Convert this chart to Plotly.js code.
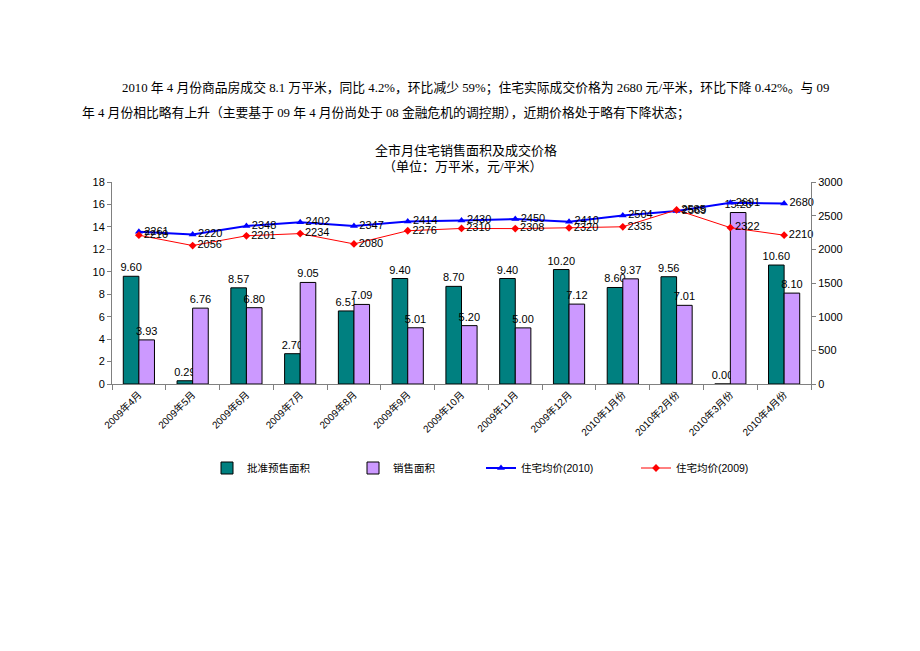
<!DOCTYPE html>
<html><head><meta charset="utf-8">
<script src="https://cdn.plot.ly/plotly-3.0.1.min.js"></script>
<style>html,body{margin:0;padding:0;background:#fff;}#chart{width:920px;height:651px;}</style>
</head><body><div id="chart"></div>
<script>
const categories = ["2009年4月","2009年5月","2009年6月","2009年7月","2009年8月","2009年9月","2009年10月","2009年11月","2009年12月","2010年1月份","2010年2月份","2010年3月份","2010年4月份"];
const approvedArea = [9.60, 0.29, 8.57, 2.70, 6.51, 9.40, 8.70, 9.40, 10.20, 8.60, 9.56, 0.00, 10.60];
const soldArea = [3.93, 6.76, 6.80, 9.05, 7.09, 5.01, 5.20, 5.00, 7.12, 9.37, 7.01, 15.28, 8.10];
const price2010 = [2261, 2220, 2348, 2402, 2347, 2414, 2430, 2450, 2410, 2504, 2569, 2691, 2680];
const price2009 = [2210, 2056, 2201, 2234, 2080, 2276, 2310, 2308, 2320, 2335, 2585, 2322, 2210];
const seriesNames = ["批准预售面积", "销售面积", "住宅均价(2010)", "住宅均价(2009)"];
const titleText = "全市月住宅销售面积及成交价格";
const subtitleText = "（单位：万平米，元/平米）";
const para1 = "2010 年 4 月份商品房成交 8.1 万平米，同比 4.2%，环比减少 59%；住宅实际成交价格为 2680 元/平米，环比下降 0.42%。与 09";
const para2 = "年 4 月份相比略有上升（主要基于 09 年 4 月份尚处于 08 金融危机的调控期），近期价格处于略有下降状态；";

const sans = "Liberation Sans, Arial, Noto Sans CJK SC, sans-serif";
const serif = "Liberation Serif, Noto Sans CJK SC, serif";
const fmt2 = v => v.toFixed(2);

const traces = [
  {type:'bar', name:seriesNames[0], legend:'legend', x:categories, y:approvedArea, text:approvedArea.map(fmt2),
   textposition:'outside', constraintext:'none', textfont:{size:11,color:'#000',family:sans}, cliponaxis:false,
   marker:{color:'#008080', line:{color:'#000', width:1}}},
  {type:'bar', name:seriesNames[1], legend:'legend2', x:categories, y:soldArea, text:soldArea.map(fmt2),
   textposition:'outside', constraintext:'none', textfont:{size:11,color:'#000',family:sans}, cliponaxis:false,
   marker:{color:'#CC99FF', line:{color:'#000', width:1}}},
  {type:'scatter', mode:'lines+markers+text', name:seriesNames[2], legend:'legend3', x:categories, y:price2010, yaxis:'y2',
   text:price2010.map(String), textposition:'middle right', textfont:{size:11,color:'#000',family:sans}, cliponaxis:false,
   line:{color:'#0000FF', width:2}, marker:{symbol:'triangle-up', size:7, color:'#0000FF'}},
  {type:'scatter', mode:'lines+markers+text', name:seriesNames[3], legend:'legend4', x:categories, y:price2009, yaxis:'y2',
   text:price2009.map(String), textposition:'middle right', textfont:{size:11,color:'#000',family:sans}, cliponaxis:false,
   line:{color:'#FF0000', width:1}, marker:{symbol:'diamond', size:6, color:'#FF0000'}}
];

const legY = -(468-384)/202;
const legFont = {size:10.5, family:sans, color:'#000'};
function leg(px){ return {x:(px-112)/699, xanchor:'left', y:legY, yanchor:'middle', font:legFont, bgcolor:'rgba(0,0,0,0)', itemwidth:30}; }

const layout = {
  width:920, height:651,
  paper_bgcolor:'#fff', plot_bgcolor:'#fff',
  margin:{l:112, r:109, t:182, b:267, autoexpand:false},
  barmode:'group', bargap:0.42, bargroupgap:0,
  showlegend:true,
  legend:leg(207), legend2:leg(353), legend3:leg(481), legend4:leg(636),
  font:{family:sans, size:11, color:'#000'},
  hovermode:false,
  xaxis:{type:'category', range:[-0.5, categories.length-0.5], autorange:false,
    tickangle:-45, tickfont:{size:10, family:sans}, automargin:false,
    showline:true, linecolor:'#808080', linewidth:1, ticks:'outside', tickson:'boundaries',
    ticklen:5, tickcolor:'#808080', showgrid:false, zeroline:false},
  yaxis:{range:[0,18], dtick:2, showline:true, linecolor:'#808080', linewidth:1, automargin:false,
    ticks:'outside', ticklen:4, tickcolor:'#808080', showgrid:false, zeroline:false,
    tickfont:{size:11, family:sans}},
  yaxis2:{overlaying:'y', side:'right', range:[0,3000], dtick:500, showline:true, automargin:false,
    linecolor:'#808080', linewidth:1, ticks:'outside', ticklen:4, tickcolor:'#808080',
    showgrid:false, zeroline:false, tickfont:{size:11, family:sans}},
  annotations:[
    {xref:'paper', yref:'paper', x:(466-112)/699, y:(384-150)/202, text:titleText, showarrow:false,
     font:{size:13, family:serif, color:'#000'}, xanchor:'center', yanchor:'middle'},
    {xref:'paper', yref:'paper', x:(463-112)/699, y:(384-166)/202, text:subtitleText, showarrow:false,
     font:{size:13, family:serif, color:'#000'}, xanchor:'center', yanchor:'middle'},
    {xref:'paper', yref:'paper', x:(120-112)/699, y:(384-88)/202, text:para1, showarrow:false,
     font:{size:12.8, family:serif, color:'#000'}, xanchor:'left', yanchor:'middle'},
    {xref:'paper', yref:'paper', x:(80-112)/699, y:(384-113)/202, text:para2, showarrow:false,
     font:{size:12.8, family:serif, color:'#000'}, xanchor:'left', yanchor:'middle'}
  ]
};
Plotly.newPlot('chart', traces, layout, {displayModeBar:false, staticPlot:true});
</script></body></html>
